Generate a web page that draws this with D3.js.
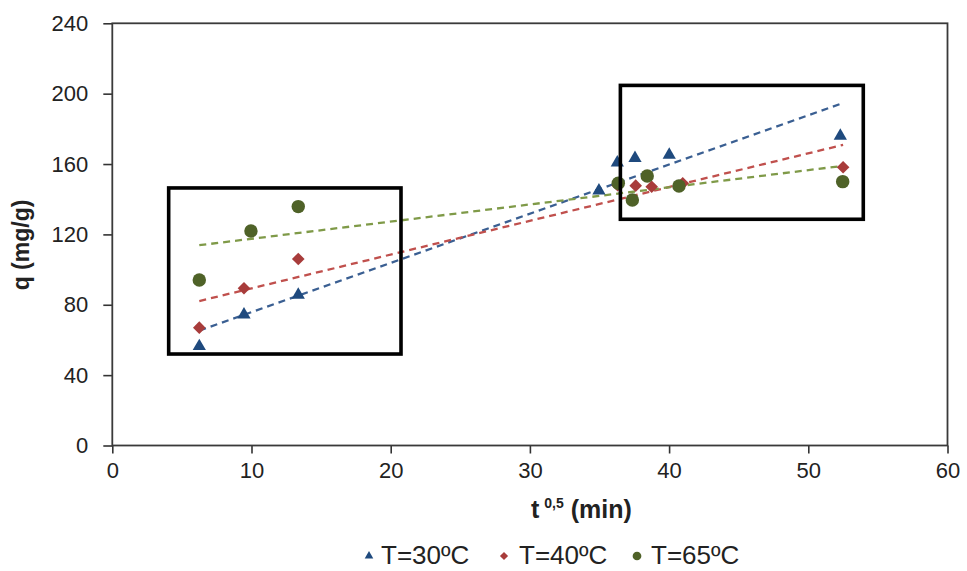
<!DOCTYPE html>
<html>
<head>
<meta charset="utf-8">
<script src="https://cdn.jsdelivr.net/npm/d3@7/dist/d3.min.js"></script>
<style>
  html, body { margin: 0; padding: 0; background: #ffffff; }
  svg { display: block; font-family: "Liberation Sans", Arial, sans-serif; }
  .tick text { fill: #222; }
</style>
</head>
<body>
<svg id="chart" width="967" height="571"></svg>
<script>
// Adsorption kinetics: q versus square root of contact time, three temperatures
const seriesNames = ["T=30ºC", "T=40ºC", "T=65ºC"];
const xT30 = [6.25, 9.46, 13.36, 34.96, 36.28, 37.55, 40.01, 52.3];
const qT30 = [56.4, 74.4, 85.6, 144.9, 160.8, 163.3, 165.2, 176.0];
const xT40 = [6.25, 9.46, 13.36, 36.3, 37.6, 38.75, 40.98, 52.5];
const qT40 = [67.0, 89.4, 106.0, 148.0, 147.7, 147.1, 149.1, 158.2];
const xT65 = [6.25, 9.96, 13.36, 36.35, 37.36, 38.43, 40.71, 52.47];
const qT65 = [94.1, 121.9, 135.8, 149.1, 139.6, 153.2, 147.5, 150.0];

const xTicks = [0, 10, 20, 30, 40, 50, 60];
const yTicks = [0, 40, 80, 120, 160, 200, 240];

// Highlighted regions (data units): [x0, x1, qLow, qHigh]
const regionEarly = [4.05, 20.74, 52.0, 146.4];
const regionLate = [36.5, 53.95, 128.6, 204.7];

const svg = d3.select("#chart");
const x = d3.scaleLinear().domain([0, 60]).range([112.3, 947.5]);
const y = d3.scaleLinear().domain([0, 240]).range([445.5, 23.3]);

const series = [
  { name: seriesNames[0], xs: xT30, ys: qT30, shape: "triangle", fill: "#1f4a7e", line: "#3a5f92" },
  { name: seriesNames[1], xs: xT40, ys: qT40, shape: "diamond", fill: "#a83c3b", line: "#c0504d" },
  { name: seriesNames[2], xs: xT65, ys: qT65, shape: "circle", fill: "#4f6228", line: "#7f9a48" }
];

function markerPath(shape, scale) {
  if (shape === "triangle") return d3.symbol(d3.symbolTriangle, 76 * scale)();
  if (shape === "diamond") return d3.symbol(d3.symbolSquare, 80 * scale)();
  return d3.symbol(d3.symbolCircle, 142 * scale)();
}

// Axes
const yAxis = d3.axisLeft(y).tickValues(yTicks).tickSize(9).tickPadding(15);
const xAxis = d3.axisBottom(x).tickValues(xTicks).tickSize(8).tickPadding(9);

const gy = svg.append("g").attr("transform", `translate(${x(0)},0)`).call(yAxis);
const gx = svg.append("g").attr("transform", `translate(0,${y(0)})`).call(xAxis);
[gy, gx].forEach(g => {
  g.select(".domain").remove();
  g.selectAll(".tick line").attr("stroke", "#333").attr("stroke-width", 1.6);
  g.selectAll(".tick text").attr("font-size", 22);
});

// Plot frame
svg.append("rect")
  .attr("x", x(0)).attr("y", y(240))
  .attr("width", x(60) - x(0)).attr("height", y(0) - y(240))
  .attr("fill", "none").attr("stroke", "#3a3a3a").attr("stroke-width", 1.8);

// Linear trend lines (least squares) across each series' range
function fit(xs, ys) {
  const n = xs.length;
  const mx = d3.mean(xs), my = d3.mean(ys);
  let sxy = 0, sxx = 0;
  for (let i = 0; i < n; i++) { sxy += (xs[i] - mx) * (ys[i] - my); sxx += (xs[i] - mx) ** 2; }
  const b = sxy / sxx;
  return { a: my - b * mx, b };
}
const trendG = svg.append("g");
series.forEach(s => {
  const f = fit(s.xs, s.ys);
  const x0 = d3.min(s.xs), x1 = d3.max(s.xs);
  trendG.append("line")
    .attr("x1", x(x0)).attr("y1", y(f.a + f.b * x0))
    .attr("x2", x(x1)).attr("y2", y(f.a + f.b * x1))
    .attr("stroke", s.line).attr("stroke-width", 2.3)
    .attr("stroke-dasharray", "7,5");
});

// Markers
series.forEach(s => {
  svg.append("g").selectAll("path")
    .data(s.xs.map((v, i) => [v, s.ys[i]]))
    .join("path")
    .attr("d", markerPath(s.shape, 1))
    .attr("transform", d => `translate(${x(d[0])},${y(d[1])})${s.shape === "diamond" ? " rotate(45)" : ""}`)
    .attr("fill", s.fill);
});

// Highlight boxes
[regionEarly, regionLate].forEach(r => {
  svg.append("rect")
    .attr("x", x(r[0])).attr("y", y(r[3]))
    .attr("width", x(r[1]) - x(r[0])).attr("height", y(r[2]) - y(r[3]))
    .attr("fill", "none").attr("stroke", "#000").attr("stroke-width", 3.6);
});

// Axis titles
svg.append("text")
  .attr("transform", "translate(29,245) rotate(-90)")
  .attr("text-anchor", "middle")
  .attr("font-size", 23).attr("font-weight", "bold").attr("fill", "#222")
  .text("q (mg/g)");

const xt = svg.append("text")
  .attr("x", 531).attr("y", 518)
  .attr("font-size", 25).attr("font-weight", "bold").attr("fill", "#222");
xt.append("tspan").text("t");
xt.append("tspan").attr("font-size", 14).attr("dy", -10).attr("dx", 5).text("0,5");
xt.append("tspan").attr("dy", 10).text(" (min)");

// Legend
const legendPos = [[369, 381], [504, 519], [637, 651]];
series.forEach((s, i) => {
  const [mx, tx] = legendPos[i];
  svg.append("path")
    .attr("d", markerPath(s.shape, 0.42))
    .attr("transform", `translate(${mx},${556})${s.shape === "diamond" ? " rotate(45)" : ""}`)
    .attr("fill", s.fill);
  svg.append("text")
    .attr("x", tx).attr("y", 564)
    .attr("font-size", 26).attr("fill", "#222")
    .text(s.name);
});
</script>
</body>
</html>
